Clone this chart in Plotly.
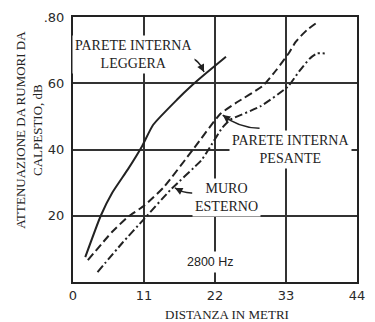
import plotly.graph_objects as go

# Distance (m) vs. impact-noise attenuation (dB) at 2800 Hz
dist_leggera = [1.9, 4.3, 6.1, 8.5, 10.7, 12.4, 16.1, 18.4, 20.6, 23.7]
att_leggera = [7.5, 20.0, 27.0, 34.0, 41.0, 47.4, 55.0, 59.3, 63.0, 68.0]

dist_pesante = [2.3, 6.0, 8.6, 11.0, 14.0, 18.6, 22.8, 25.2, 29.4, 31.5, 33.5, 34.5, 36.2, 38.0]
att_pesante = [6.6, 15.0, 19.8, 23.0, 28.5, 40.0, 50.7, 54.0, 59.2, 64.0, 69.3, 72.5, 76.0, 78.6]

dist_muro = [3.8, 7.6, 11.0, 15.1, 19.9, 21.0, 23.1, 24.3, 29.0, 33.3, 35.0, 36.7, 37.8, 39.0]
att_muro = [3.0, 11.7, 19.0, 27.8, 36.8, 40.0, 46.5, 48.9, 53.0, 59.0, 63.5, 67.5, 69.0, 69.0]

x_ticks = [0, 11, 22, 33, 44]
x_ticktext = ["0", "11", "22", "33", "44"]
y_ticks = [20, 40, 60, 80]
y_ticktext = ["20", "40", "60", ".80"]

INK = "#222222"
SERIF = "Liberation Serif"
SANS = "DejaVu Sans"

fig = go.Figure()

fig.add_trace(go.Scatter(x=dist_leggera, y=att_leggera, mode="lines",
                         line=dict(color=INK, width=2, shape="spline", smoothing=0.5)))
fig.add_trace(go.Scatter(x=dist_pesante, y=att_pesante, mode="lines",
                         line=dict(color=INK, width=2, dash="8px,4px", shape="spline", smoothing=0.5)))
fig.add_trace(go.Scatter(x=dist_muro, y=att_muro, mode="lines",
                         line=dict(color=INK, width=2, dash="8px,3px,2px,3px", shape="spline", smoothing=0.5)))

# curved leader lines from labels to curves
leaders = [
    ("M 17.2 67.9 Q 19.3 68.2 20.3 63.4", (20.3, 63.4), -4, -8),
    ("M 28.9 46.4 Q 25.6 46.6 23.2 50.4", (23.2, 50.4), 8, 6),
    ("M 18.5 26.9 Q 17.0 26.8 15.8 28.4", (15.8, 28.4), 8, 4),
]
for path, (tx, ty), ax, ay in leaders:
    fig.add_shape(type="path", path=path, xref="x", yref="y",
                  line=dict(color=INK, width=1.5))
    fig.add_annotation(x=tx, y=ty, xref="x", yref="y", text="", showarrow=True,
                       ax=ax, ay=ay, arrowhead=2, arrowsize=1, arrowwidth=1.5,
                       arrowcolor=INK, standoff=0)

label_font = dict(family=SERIF, size=14, color=INK)
title_font = dict(family=SERIF, size=13, color=INK)
fig.add_annotation(x=9.34, y=68.6, text="PARETE INTERNA<br>LEGGERA", showarrow=False,
                   font=label_font, bgcolor="white", borderpad=2)
fig.add_annotation(x=33.75, y=40.0, text="PARETE INTERNA<br>PESANTE", showarrow=False,
                   font=label_font, bgcolor="white", borderpad=2)
fig.add_annotation(x=23.8, y=25.5, text="MURO<br>ESTERNO", showarrow=False,
                   font=label_font, bgcolor="white", borderpad=2)
fig.add_annotation(x=21.3, y=6.1, text="2800 Hz", showarrow=False,
                   font=dict(family="Liberation Sans", size=12.5, color=INK),
                   bgcolor="white", borderpad=3)

# axis titles
fig.add_annotation(x=0.541, y=-0.1245, xref="paper", yref="paper",
                   text="DISTANZA IN METRI", showarrow=False,
                   font=title_font, xanchor="center", yanchor="middle")
fig.add_annotation(x=-0.155, y=0.574, xref="paper", yref="paper",
                   text="ATTENUAZIONE DA RUMORI DA<br>CALPESTIO, dB", showarrow=False,
                   textangle=-90, font=title_font, xanchor="center", yanchor="middle")

axis_common = dict(showline=True, mirror=True, linecolor=INK, linewidth=2,
                   showgrid=True, gridcolor="#333333", gridwidth=1.5,
                   zeroline=False, ticks="",
                   tickfont=dict(family=SANS, size=13, color="#2a2a2a"))

fig.update_xaxes(range=[0, 44], tickvals=x_ticks, ticktext=x_ticktext, **axis_common)
fig.update_yaxes(range=[0, 80], tickvals=y_ticks, ticktext=y_ticktext,
                 ticklabelstandoff=4, **axis_common)

fig.update_layout(width=375, height=322, showlegend=False,
                  margin=dict(l=73, r=10, t=17, b=40),
                  paper_bgcolor="white", plot_bgcolor="white")

fig.write_html("out.html")
